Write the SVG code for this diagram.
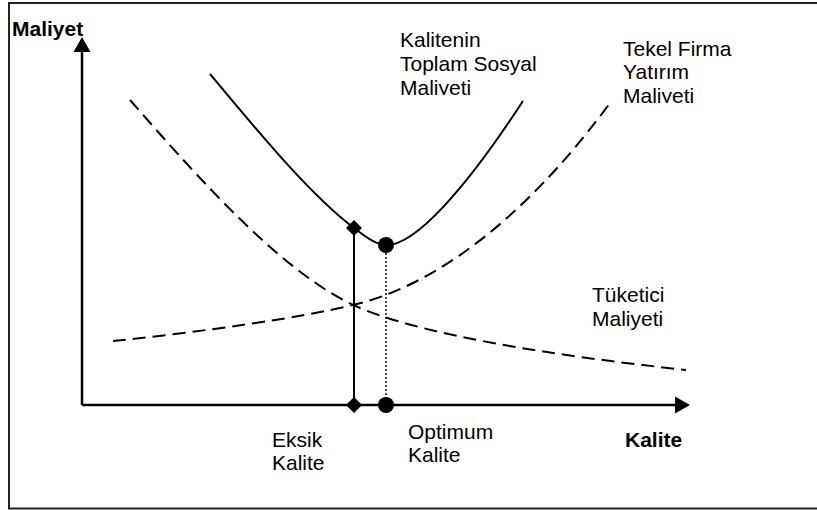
<svg xmlns="http://www.w3.org/2000/svg" width="817" height="510" viewBox="0 0 817 510">
<style>
  text { font-family: "Liberation Sans", Arial, sans-serif; font-size: 21px; fill: #000; }
  .bold { font-weight: bold; }
  .axis { stroke: #000; stroke-width: 2.5; fill: none; }
  .curve { stroke: #000; stroke-width: 2; fill: none; }
  .dashed { stroke: #000; stroke-width: 2; fill: none; stroke-dasharray: 13 7; }
  .dotted { stroke: #000; stroke-width: 1.5; fill: none; stroke-dasharray: 2 2; }
  .mark { fill: #000; stroke: none; }
</style>
<defs>
  <marker id="arrow" markerUnits="userSpaceOnUse" markerWidth="16" markerHeight="17" refX="0" refY="8.5" orient="auto">
    <path d="M0,0 L15,8.5 L0,17 z" fill="#000"/>
  </marker>
  <clipPath id="clip1"><rect x="380" y="20" width="200" height="75"/></clipPath>
  <clipPath id="clip2"><rect x="600" y="30" width="200" height="73"/></clipPath>
</defs>
<rect x="9" y="3" width="830" height="505.5" fill="#fff" stroke="#222" stroke-width="2"/>

<g id="connectors">
  <path class="axis" d="M82,405 L82,52" marker-end="url(#arrow)"/>
  <path class="axis" d="M82,405 L675,405" marker-end="url(#arrow)"/>
  <path class="curve" d="M354,228 L354,405"/>
  <path class="dotted" d="M386,245 L386,405"/>
</g>

<g id="total-cost">
  <path class="curve" d="M210,74 C255,128 310,195 354,228 C366,237 376,245 387,245 C415,245 465,190 523,101"/>
</g>
<g id="consumer-cost">
  <path class="dashed" d="M130,100 C200,180 280,270 353,305 C420,335 550,355 686,370"/>
</g>
<g id="monopoly-cost">
  <path class="dashed" d="M113,341 C200,332 300,318 353,305 C430,287 520,225 610,103"/>
</g>

<g id="points">
  <path class="mark" d="M354,220 L362,228 L354,236 L346,228 z"/>
  <path class="mark" d="M354,397 L362,405 L354,413 L346,405 z"/>
  <circle class="mark" cx="386" cy="245" r="8"/>
  <circle class="mark" cx="386" cy="405" r="8"/>
</g>

<g id="labels">
  <text class="bold" x="12" y="36">Maliyet</text>
  <text class="bold" x="625" y="447">Kalite</text>
  <g clip-path="url(#clip1)">
    <text x="400" y="47">Kalitenin</text>
    <text x="400" y="71">Toplam Sosyal</text>
    <text x="400" y="94.5">Maliyeti</text>
  </g>
  <g clip-path="url(#clip2)">
    <text x="623" y="55.5">Tekel Firma</text>
    <text x="623" y="79">Yatırım</text>
    <text x="623" y="102.5">Maliyeti</text>
  </g>
  <text x="592" y="302">Tüketici</text>
  <text x="592" y="326">Maliyeti</text>
  <text x="272" y="447">Eksik</text>
  <text x="272" y="470">Kalite</text>
  <text x="408" y="439">Optimum</text>
  <text x="408" y="462">Kalite</text>
</g>
</svg>
